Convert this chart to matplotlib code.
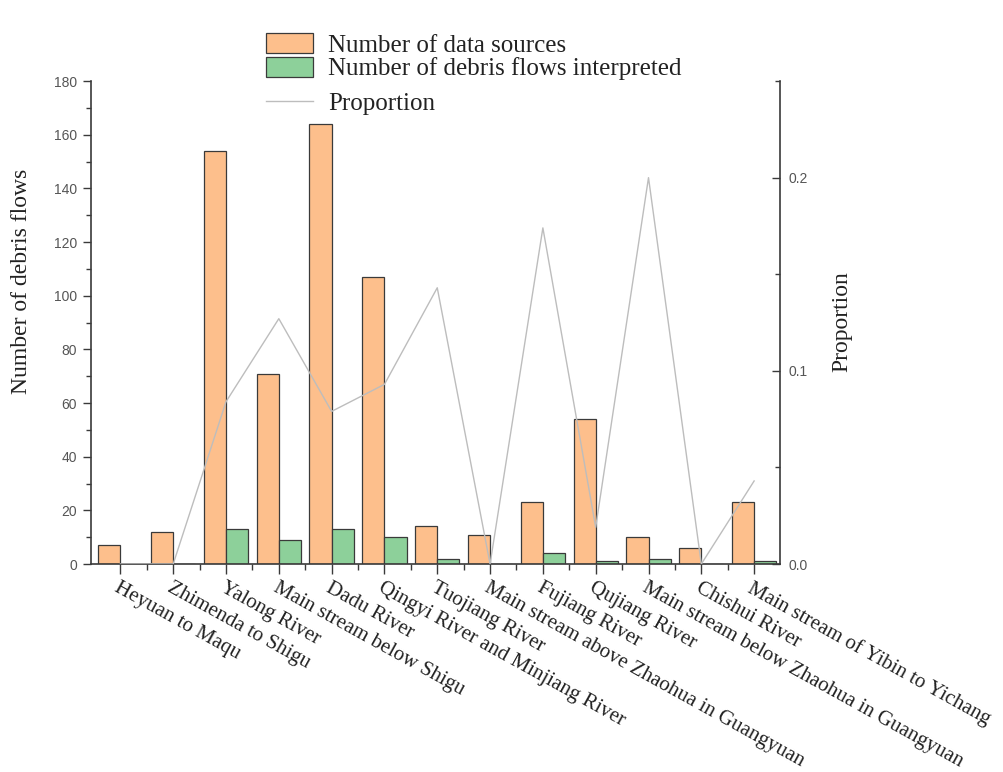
import matplotlib
matplotlib.use("Agg")
import matplotlib.pyplot as plt
from matplotlib.ticker import MultipleLocator
import numpy as np

# Sub-basins along the river
basins = [
    "Heyuan to Maqu",
    "Zhimenda to Shigu",
    "Yalong River",
    "Main stream below Shigu",
    "Dadu River",
    "Qingyi River and Minjiang River",
    "Tuojiang River",
    "Main stream above Zhaohua in Guangyuan",
    "Fujiang River",
    "Qujiang River",
    "Main stream below Zhaohua in Guangyuan",
    "Chishui River",
    "Main stream of Yibin to Yichang",
]
data_sources = [7, 12, 154, 71, 164, 107, 14, 11, 23, 54, 10, 6, 23]
interpreted = [0, 0, 13, 9, 13, 10, 2, 0, 4, 1, 2, 0, 1]
proportion = [0.0, 0.0, 0.084, 0.127, 0.079, 0.093, 0.143, 0.0, 0.174, 0.019, 0.2, 0.0, 0.043]
prop_ticks = [0.0, 0.1, 0.2]

serif = "Liberation Serif"
sans = "Liberation Sans"
orange = "#FDBF8C"
green = "#8DD09A"
edge = "#3a3a3a"
tick_col = "#555555"
text_col = "#222222"

fig = plt.figure(figsize=(10.04, 7.72), dpi=100)
ax = fig.add_axes([0.0906, 0.2694, 0.6863, 0.6256])
ax2 = ax.twinx()

x = np.arange(len(basins))
w = 0.42
b1 = ax.bar(x, data_sources, width=-w, align="edge", color=orange,
            edgecolor=edge, linewidth=0.9)
b2 = ax.bar(x, interpreted, width=w, align="edge", color=green,
            edgecolor=edge, linewidth=0.9)
ln, = ax2.plot(x, proportion, color="#bdbdbd", lw=1.0)

ax.set_xlim(-0.557, 12.49)
ax.set_ylim(0, 180)
ax2.set_ylim(0, 0.25)

ax.yaxis.set_major_locator(MultipleLocator(20))
ax.yaxis.set_minor_locator(MultipleLocator(10))
ax2.set_yticks(prop_ticks)
ax2.set_yticklabels([f"{t:.1f}" for t in prop_ticks])
ax2.yaxis.set_minor_locator(MultipleLocator(0.05))
ax.set_xticks(x)
ax.set_xticks(x[:-1] + 0.5, minor=True)

for a in (ax, ax2):
    a.spines["top"].set_visible(False)
    for s in a.spines.values():
        s.set_color(edge)
        s.set_linewidth(1.2)
ax.spines["right"].set_visible(False)
ax2.spines["left"].set_visible(False)
ax2.spines["bottom"].set_visible(False)

ax.tick_params(axis="y", which="major", direction="out", length=6, width=1,
               color=edge, labelsize=10, labelcolor=tick_col, pad=4)
ax.tick_params(axis="y", which="minor", direction="out", length=3.5, width=1, color=edge)
ax.tick_params(axis="x", which="major", direction="out", length=7, width=1, color=edge)
ax.tick_params(axis="x", which="minor", direction="out", length=4, width=1, color=edge)
ax2.tick_params(axis="y", which="major", direction="in", length=6, width=1,
                color=edge, labelsize=10, labelcolor=tick_col, pad=6)
ax2.tick_params(axis="y", which="minor", direction="in", length=3.5, width=1, color=edge)

for lab in ax.get_yticklabels() + ax2.get_yticklabels():
    lab.set_fontfamily(sans)

ax.set_xticklabels(basins, rotation=-29, ha="left", va="top",
                   rotation_mode="anchor", fontfamily=serif, fontsize=15,
                   color=text_col)

ax.set_ylabel("Number of debris flows", fontfamily=serif, fontsize=17, color=text_col)
ax.yaxis.set_label_coords(-0.085, 0.585)
ax2.set_ylabel("Proportion", fontfamily=serif, fontsize=17, color=text_col)
ax2.yaxis.set_label_coords(1.074, 0.502)

# bar entries sit tight together, the line entry a little lower
leg_font = {"family": serif, "size": 18}
bar_leg = ax2.legend([b1, b2],
                     ["Number of data sources", "Number of debris flows interpreted"],
                     loc="upper left", bbox_to_anchor=(253 / 1004, 1 - 20 / 772),
                     bbox_transform=fig.transFigure, frameon=False, borderpad=0,
                     handlelength=1.9, handleheight=0.9, labelspacing=0.0,
                     handletextpad=0.6, prop=leg_font, labelcolor=text_col)
ax2.add_artist(bar_leg)
ax2.legend([ln], ["Proportion"],
           loc="upper left", bbox_to_anchor=(253 / 1004, 1 - 80 / 772),
           bbox_transform=fig.transFigure, frameon=False, borderpad=0,
           handlelength=1.9, handletextpad=0.6, prop=leg_font, labelcolor=text_col)

fig.savefig("out.png", dpi=100)
